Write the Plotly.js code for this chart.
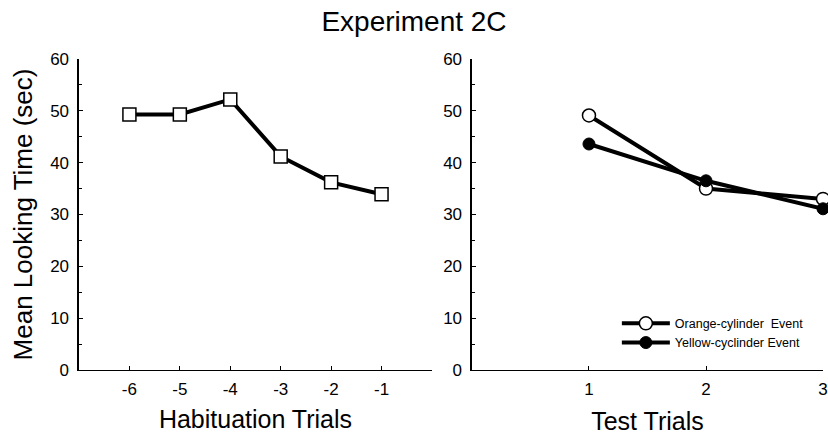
<!DOCTYPE html>
<html>
<head>
<meta charset="utf-8">
<script src="https://cdn.plot.ly/plotly-3.0.1.min.js"></script>
<style>html,body{margin:0;padding:0;background:#fff;}#chart{width:828px;height:436px;}</style>
</head>
<body>
<div id="chart"></div>
<script>
const habTrials = [-6, -5, -4, -3, -2, -1];
const habTickText = ["-6", "-5", "-4", "-3", "-2", "-1"];
const habValues = [49.3, 49.3, 52.2, 41.2, 36.2, 33.9];
const testTrials = [1, 2, 3];
const testTickText = ["1", "2", "3"];
const orangeValues = [49.1, 35.0, 33.0];
const yellowValues = [43.6, 36.5, 31.1];
const seriesNames = ["Orange-cylinder  Event", "Yellow-cyclinder Event"];
const yTicks = [0, 10, 20, 30, 40, 50, 60];

const font = "Liberation Sans, Arial, Helvetica, sans-serif";

const traces = [
  {x: habTrials, y: habValues, type: "scatter", mode: "lines+markers", xaxis: "x", yaxis: "y",
   showlegend: false, cliponaxis: false,
   line: {color: "#000", width: 4},
   marker: {symbol: "square", size: 13, color: "#fff", line: {color: "#000", width: 1.5}}},
  {x: testTrials, y: orangeValues, type: "scatter", mode: "lines+markers", xaxis: "x2", yaxis: "y2",
   name: seriesNames[0], cliponaxis: false,
   line: {color: "#000", width: 4},
   marker: {symbol: "circle", size: 13, color: "#fff", line: {color: "#000", width: 1.5}}},
  {x: testTrials, y: yellowValues, type: "scatter", mode: "lines+markers", xaxis: "x2", yaxis: "y2",
   name: seriesNames[1], cliponaxis: false,
   line: {color: "#000", width: 4},
   marker: {symbol: "circle", size: 12, color: "#000", line: {color: "#000", width: 1}}}
];

const yBase = {
  range: [0, 60], tickvals: yTicks, showline: true, linecolor: "#000", linewidth: 1.5,
  ticks: "inside", ticklen: 4, tickcolor: "#000", showgrid: false, zeroline: false,
  tickfont: {family: font, size: 17, color: "#000"}, ticklabelstandoff: 5,
  minor: {dtick: 5, ticks: "inside", ticklen: 3, tickcolor: "#000"}
};
const xBase = {
  showline: true, linecolor: "#000", linewidth: 1.5, ticks: "inside", ticklen: 4,
  tickcolor: "#000", showgrid: false, zeroline: false,
  tickfont: {family: font, size: 17, color: "#000"}, ticklabelstandoff: 3
};

const layout = {
  width: 828, height: 436,
  margin: {l: 0, r: 0, t: 0, b: 0},
  paper_bgcolor: "#fff", plot_bgcolor: "#fff",
  font: {family: font, color: "#000"},
  title: {text: "Experiment 2C", x: 0.5, xanchor: "center", y: 0.952, yanchor: "middle",
          font: {family: font, size: 28, color: "#000"}},
  xaxis: Object.assign({}, xBase, {domain: [0.0954, 0.5217], range: [-7, 0], tickvals: habTrials,
    ticktext: habTickText, anchor: "y",
    title: {text: "Habituation Trials", font: {family: font, size: 25, color: "#000"}, standoff: 12}}),
  yaxis: Object.assign({}, yBase, {domain: [0.1514, 0.8647], anchor: "x",
    title: {text: "Mean Looking Time (sec)", font: {family: font, size: 26, color: "#000"}, standoff: 10}}),
  xaxis2: Object.assign({}, xBase, {domain: [0.570, 0.994], range: [0, 3], tickvals: testTrials,
    ticktext: testTickText, anchor: "y2",
    title: {text: "Test Trials", font: {family: font, size: 25, color: "#000"}, standoff: 14}}),
  yaxis2: Object.assign({}, yBase, {domain: [0.1514, 0.8647], anchor: "x2"}),
  legend: {x: 0.745, y: 0.292, xanchor: "left", yanchor: "top", bgcolor: "rgba(0,0,0,0)",
    font: {family: font, size: 12.5, color: "#000"}, itemwidth: 48, tracegroupgap: 0,
    traceorder: "normal"}
};

Plotly.newPlot("chart", traces, layout, {displayModeBar: false, staticPlot: true});
</script>
</body>
</html>
